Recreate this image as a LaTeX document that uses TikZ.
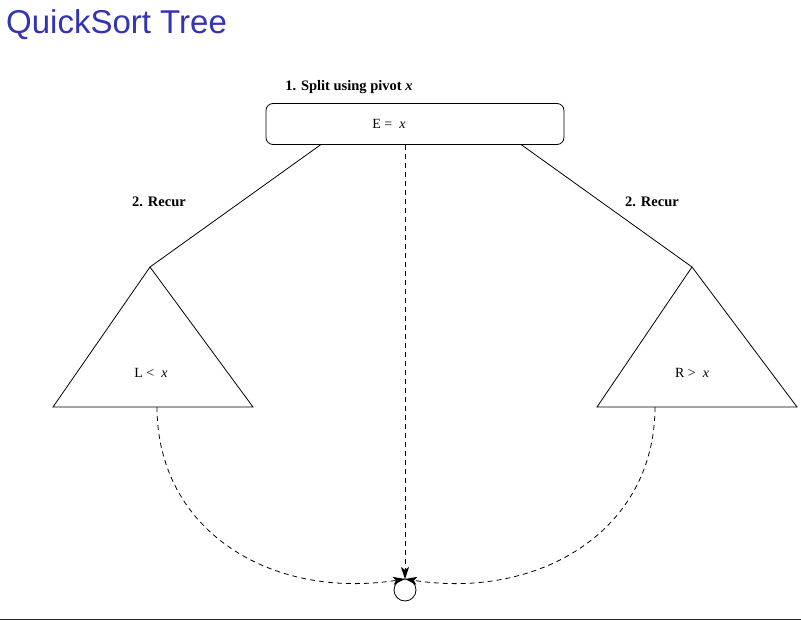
\documentclass[tikz,border=0pt]{standalone}
\usepackage{fontspec}
\setmainfont{Liberation Serif}
\newfontfamily\titlefont{Liberation Sans}
\usetikzlibrary{arrows.meta}
\definecolor{titleblue}{RGB}{51,51,179}
\begin{document}
\begin{tikzpicture}[x=1pt,y=-1pt,
  lbl/.style={font=\fontsize{14}{16}\selectfont, inner sep=0pt},
  blbl/.style={font=\fontsize{14.5}{16}\selectfont\bfseries, inner sep=0pt},
  dline/.style={dash pattern=on 5pt off 4pt, line width=0.8pt},
  tip/.style={-{Stealth[length=12pt,width=8pt,inset=3pt]}}]
\useasboundingbox (0,0) rectangle (801,621);
\node[anchor=base west, font=\titlefont\fontsize{33}{36}\selectfont, text=titleblue, inner sep=0pt] (title) at (6,33) {QuickSort Tree};
\draw[line width=1.2pt, black!85] (0,619.5) coordinate (bl) -- (801,619.5) coordinate (br);
\node[blbl] (split) at (349,87) {1. Split using pivot \textit{x}};
\node[draw, rounded corners=7pt, minimum width=298pt, minimum height=41pt, inner sep=0pt, line width=0.8pt] (E) at (415,124) {};
\node[lbl] (Elbl) at (389,124) {E =\ \ \textit{x}};
\coordinate (lt) at (150,267);
\coordinate (rt) at (692,267);
\draw[line width=0.8pt] (321,144.5) -- (lt);
\draw[line width=0.8pt] (521,144.5) -- (rt);
\draw[line width=0.8pt] (lt) -- (53,407) coordinate (lb1) -- (253,407) coordinate (lb2) -- cycle;
\draw[line width=0.8pt] (rt) -- (597,407) coordinate (rb1) -- (797,407) coordinate (rb2) -- cycle;
\node[lbl] (L) at (151,373) {L <\ \ \textit{x}};
\node[lbl] (R) at (692,373) {R >\ \ \textit{x}};
\node[blbl] (rec1) at (159,202) {2. Recur};
\node[blbl] (rec2) at (652,202) {2. Recur};
\node[draw, circle, minimum size=22pt, inner sep=0pt, line width=0.8pt] (C) at (405,590) {};
\coordinate (ctop) at (405,579);
\draw[dline, tip] (405,145) -- (ctop);
\draw[dline, tip] (157,407) .. controls (157,530) and (270,600) .. (ctop);
\draw[dline, tip] (655,407) .. controls (655,530) and (540,600) .. (ctop);
\end{tikzpicture}
\end{document}
